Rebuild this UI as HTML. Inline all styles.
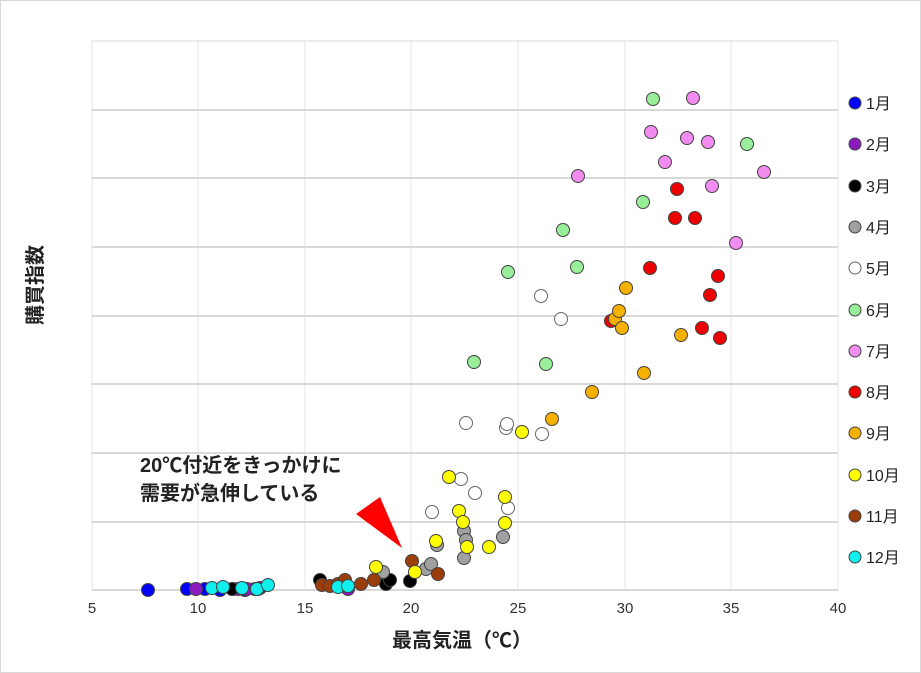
<!DOCTYPE html>
<html><head><meta charset="utf-8"><style>
body{margin:0;background:#fff}
svg{display:block;font-family:"Liberation Sans","Noto Sans CJK JP",sans-serif}
</style></head><body>
<svg width="921" height="673" viewBox="0 0 921 673">
<rect x="0.5" y="0.5" width="920" height="672" fill="#fff" stroke="#d9d9d9"/>
<g stroke="#e6e6e6" stroke-width="1">
<line x1="198" y1="41" x2="198" y2="590"/><line x1="305" y1="41" x2="305" y2="590"/><line x1="411" y1="41" x2="411" y2="590"/><line x1="518" y1="41" x2="518" y2="590"/><line x1="625" y1="41" x2="625" y2="590"/><line x1="731" y1="41" x2="731" y2="590"/><line x1="838" y1="41" x2="838" y2="590"/><line x1="92" y1="41" x2="92" y2="590"/>
</g>
<g stroke="#d9d9d9" stroke-width="2">
<line x1="92" y1="41" x2="838" y2="41" stroke-width="1"/>
<line x1="92" y1="110" x2="838" y2="110"/><line x1="92" y1="178" x2="838" y2="178"/><line x1="92" y1="247" x2="838" y2="247"/><line x1="92" y1="316" x2="838" y2="316"/><line x1="92" y1="384" x2="838" y2="384"/><line x1="92" y1="453" x2="838" y2="453"/><line x1="92" y1="522" x2="838" y2="522"/><line x1="92" y1="590" x2="838" y2="590"/>
</g>
<g font-size="15" fill="#333" text-anchor="middle">
<text x="92" y="613">5</text><text x="198" y="613">10</text><text x="305" y="613">15</text><text x="411" y="613">20</text><text x="518" y="613">25</text><text x="625" y="613">30</text><text x="731" y="613">35</text><text x="838" y="613">40</text>
</g>
<text x="462" y="647" font-size="20" font-weight="bold" text-anchor="middle" fill="#222">最高気温（℃）</text>
<text transform="translate(42,285) rotate(-90)" font-size="20" font-weight="bold" text-anchor="middle" fill="#222">購買指数</text>
<text x="140" y="472" font-size="20" font-weight="bold" fill="#222">20℃付近をきっかけに</text>
<text x="140" y="500" font-size="20" font-weight="bold" fill="#222">需要が急伸している</text>
<polygon points="356,514 380,497 402,548" fill="#ff0000"/>
<g stroke="#444" stroke-width="1">
<g fill="#0000ff"><circle cx="148" cy="590" r="6.5"/><circle cx="187" cy="589" r="6.5"/><circle cx="205" cy="589" r="6.5"/><circle cx="220" cy="590" r="6.5"/><circle cx="233" cy="589" r="6.5"/><circle cx="245" cy="590" r="6.5"/><circle cx="255" cy="589" r="6.5"/><circle cx="260" cy="588" r="6.5"/></g>
<g fill="#8b1ac0"><circle cx="196" cy="589" r="6.5"/><circle cx="238" cy="589" r="6.5"/><circle cx="247" cy="589" r="6.5"/><circle cx="258" cy="589" r="6.5"/><circle cx="348" cy="589" r="6.5"/></g>
<g fill="#000"><circle cx="232" cy="589" r="6.5"/><circle cx="320" cy="580" r="6.5"/><circle cx="384" cy="579" r="6.5"/><circle cx="386" cy="584" r="6.5"/><circle cx="390" cy="580" r="6.5"/><circle cx="410" cy="581" r="6.5"/></g>
<g fill="#a0a0a0"><circle cx="383" cy="572" r="6.5"/><circle cx="426" cy="569" r="6.5"/><circle cx="431" cy="564" r="6.5"/><circle cx="437" cy="545" r="6.5"/><circle cx="464" cy="531" r="6.5"/><circle cx="466" cy="540" r="6.5"/><circle cx="464" cy="558" r="6.5"/><circle cx="503" cy="537" r="6.5"/></g>
<g fill="#fff" stroke="#666"><circle cx="432" cy="512" r="6.5"/><circle cx="461" cy="479" r="6.5"/><circle cx="475" cy="493" r="6.5"/><circle cx="508" cy="508" r="6.5"/><circle cx="466" cy="423" r="6.5"/><circle cx="506" cy="428" r="6.5"/><circle cx="507" cy="424" r="6.5"/><circle cx="542" cy="434" r="6.5"/><circle cx="541" cy="296" r="6.5"/><circle cx="561" cy="319" r="6.5"/></g>
<g fill="#99ee99"><circle cx="653" cy="99" r="6.5"/><circle cx="747" cy="144" r="6.5"/><circle cx="643" cy="202" r="6.5"/><circle cx="563" cy="230" r="6.5"/><circle cx="508" cy="272" r="6.5"/><circle cx="577" cy="267" r="6.5"/><circle cx="474" cy="362" r="6.5"/><circle cx="546" cy="364" r="6.5"/></g>
<g fill="#f28cf0"><circle cx="693" cy="98" r="6.5"/><circle cx="651" cy="132" r="6.5"/><circle cx="687" cy="138" r="6.5"/><circle cx="708" cy="142" r="6.5"/><circle cx="665" cy="162" r="6.5"/><circle cx="578" cy="176" r="6.5"/><circle cx="712" cy="186" r="6.5"/><circle cx="764" cy="172" r="6.5"/><circle cx="736" cy="243" r="6.5"/></g>
<g fill="#ee0000"><circle cx="677" cy="189" r="6.5"/><circle cx="675" cy="218" r="6.5"/><circle cx="695" cy="218" r="6.5"/><circle cx="650" cy="268" r="6.5"/><circle cx="718" cy="276" r="6.5"/><circle cx="710" cy="295" r="6.5"/><circle cx="611" cy="321" r="6.5"/><circle cx="702" cy="328" r="6.5"/><circle cx="720" cy="338" r="6.5"/></g>
<g fill="#f5b000"><circle cx="626" cy="288" r="6.5"/><circle cx="615" cy="319" r="6.5"/><circle cx="619" cy="311" r="6.5"/><circle cx="622" cy="328" r="6.5"/><circle cx="681" cy="335" r="6.5"/><circle cx="644" cy="373" r="6.5"/><circle cx="592" cy="392" r="6.5"/><circle cx="552" cy="419" r="6.5"/></g>
<g fill="#9b3c0b"><circle cx="322" cy="585" r="6.5"/><circle cx="330" cy="586" r="6.5"/><circle cx="338" cy="584" r="6.5"/><circle cx="345" cy="580" r="6.5"/><circle cx="361" cy="584" r="6.5"/><circle cx="374" cy="580" r="6.5"/><circle cx="412" cy="561" r="6.5"/><circle cx="438" cy="574" r="6.5"/></g>
<g fill="#ffff00"><circle cx="376" cy="567" r="6.5"/><circle cx="415" cy="572" r="6.5"/><circle cx="436" cy="541" r="6.5"/><circle cx="449" cy="477" r="6.5"/><circle cx="459" cy="511" r="6.5"/><circle cx="463" cy="522" r="6.5"/><circle cx="467" cy="547" r="6.5"/><circle cx="489" cy="547" r="6.5"/><circle cx="505" cy="523" r="6.5"/><circle cx="505" cy="497" r="6.5"/><circle cx="522" cy="432" r="6.5"/></g>
<g fill="#11eeee"><circle cx="212" cy="588" r="6.5"/><circle cx="223" cy="587" r="6.5"/><circle cx="242" cy="588" r="6.5"/><circle cx="257" cy="589" r="6.5"/><circle cx="268" cy="585" r="6.5"/><circle cx="338" cy="587" r="6.5"/><circle cx="348" cy="586" r="6.5"/></g>
</g>
<g font-size="16" fill="#222">
<circle cx="855" cy="103" r="6" fill="#0000ff" stroke="#444"/><text x="866" y="109">1月</text>
<circle cx="855" cy="144" r="6" fill="#8b1ac0" stroke="#444"/><text x="866" y="150">2月</text>
<circle cx="855" cy="186" r="6" fill="#000" stroke="#444"/><text x="866" y="192">3月</text>
<circle cx="855" cy="227" r="6" fill="#a0a0a0" stroke="#444"/><text x="866" y="233">4月</text>
<circle cx="855" cy="268" r="6" fill="#fff" stroke="#666"/><text x="866" y="274">5月</text>
<circle cx="855" cy="310" r="6" fill="#99ee99" stroke="#444"/><text x="866" y="316">6月</text>
<circle cx="855" cy="351" r="6" fill="#f28cf0" stroke="#444"/><text x="866" y="357">7月</text>
<circle cx="855" cy="392" r="6" fill="#ee0000" stroke="#444"/><text x="866" y="398">8月</text>
<circle cx="855" cy="433" r="6" fill="#f5b000" stroke="#444"/><text x="866" y="439">9月</text>
<circle cx="855" cy="475" r="6" fill="#ffff00" stroke="#444"/><text x="866" y="481">10月</text>
<circle cx="855" cy="516" r="6" fill="#9b3c0b" stroke="#444"/><text x="866" y="522">11月</text>
<circle cx="855" cy="557" r="6" fill="#11eeee" stroke="#444"/><text x="866" y="563">12月</text>
</g>
</svg>
</body></html>
